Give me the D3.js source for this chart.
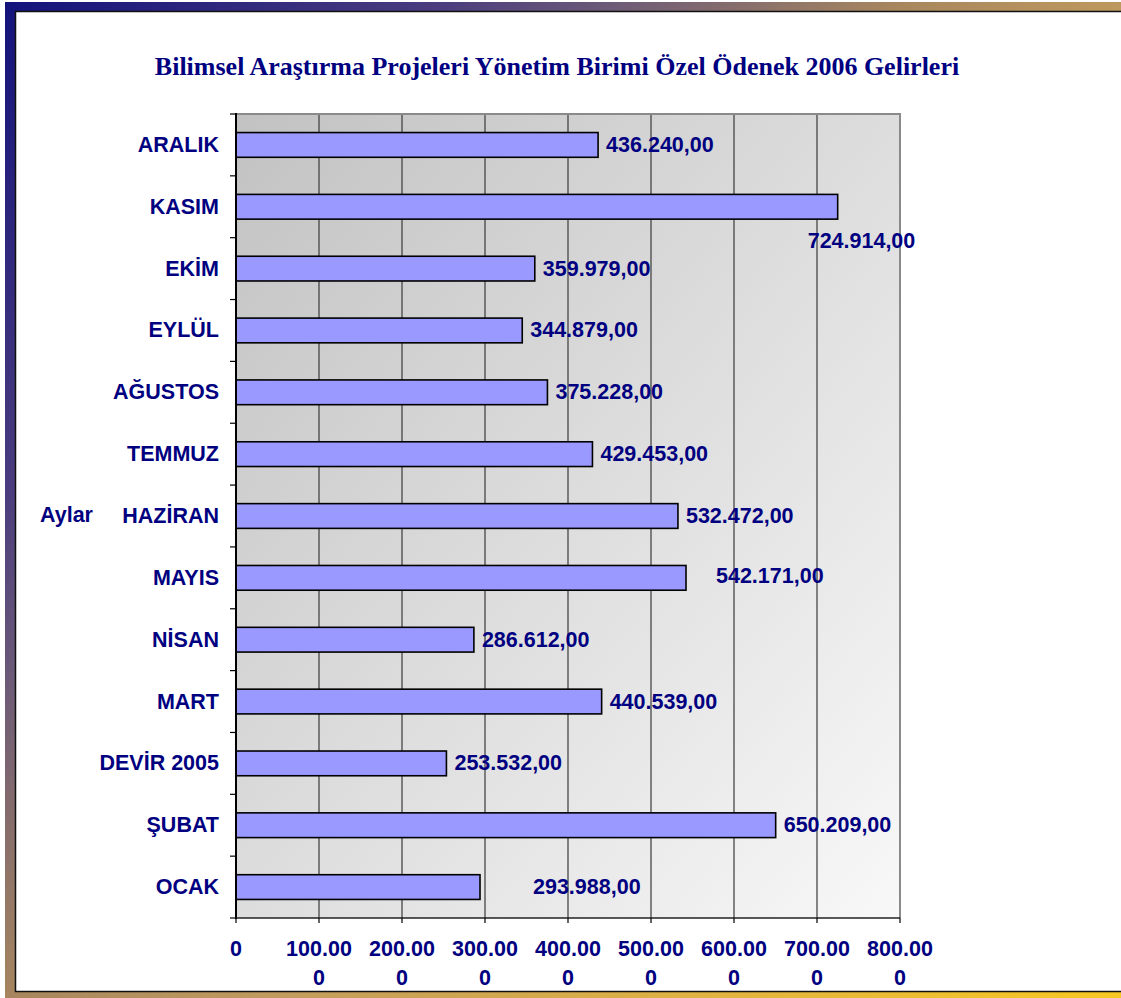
<!DOCTYPE html>
<html>
<head>
<meta charset="utf-8">
<script src="https://cdn.jsdelivr.net/npm/d3@7"></script>
<style>
  html, body { margin: 0; padding: 0; background: #ffffff; }
  svg { display: block; }
</style>
</head>
<body>
<svg id="chart" width="1121" height="998"></svg>
<script>
// ---- Data (bottom to top as in the original series) ----
const categories = ["OCAK", "ŞUBAT", "DEVİR 2005", "MART", "NİSAN", "MAYIS", "HAZİRAN",
                    "TEMMUZ", "AĞUSTOS", "EYLÜL", "EKİM", "KASIM", "ARALIK"];
const values = [293988, 650209, 253532, 440539, 286612, 542171, 532472,
                429453, 375228, 344879, 359979, 724914, 436240];
const xTickValues = [0, 100000, 200000, 300000, 400000, 500000, 600000, 700000, 800000];
const xTickLabels = [["0"], ["100.00", "0"], ["200.00", "0"], ["300.00", "0"], ["400.00", "0"],
                     ["500.00", "0"], ["600.00", "0"], ["700.00", "0"], ["800.00", "0"]];
const titleText = "Bilimsel Araştırma Projeleri Yönetim Birimi Özel Ödenek 2006 Gelirleri";
const axisTitle = "Aylar";

// label nudges (layout only, as placed in the original slide) [dx, dy]
const labelNudge = {"KASIM": [-38, 34], "MAYIS": [22, -2], "OCAK": [45, 0]};

const W = 1121, H = 998;
const navy = "#000080";
const sans = "'Liberation Sans', Arial, sans-serif";
const fs = 21.5;
const svg = d3.select("#chart");
const defs = svg.append("defs");

// frame gradient
const fg = defs.append("linearGradient").attr("id", "frameGrad")
  .attr("gradientUnits", "userSpaceOnUse").attr("x1", 0).attr("y1", 0).attr("x2", W).attr("y2", H);
[[0, "#12127c"], [0.22, "#4a3c7e"], [0.3, "#6a5878"], [0.45, "#a8875e"], [0.58, "#c29c5e"], [0.8, "#e2b440"], [1, "#f8c822"]]
  .forEach(([o, c]) => fg.append("stop").attr("offset", o).attr("stop-color", c));

// plot gradient
const pg = defs.append("linearGradient").attr("id", "plotGrad")
  .attr("x1", 0).attr("y1", 0).attr("x2", 1).attr("y2", 1);
[[0, "#c2c2c2"], [1, "#f8f8f8"]]
  .forEach(([o, c]) => pg.append("stop").attr("offset", o).attr("stop-color", c));

// frame
svg.append("rect").attr("x", 5).attr("y", 2).attr("width", W - 5).attr("height", H - 2)
  .attr("fill", "url(#frameGrad)");
svg.append("rect").attr("x", 15.5).attr("y", 11.5).attr("width", W - 15.5 + 5).attr("height", 980)
  .attr("fill", "#ffffff").attr("stroke", "#111").attr("stroke-width", 1.5);

// title
svg.append("text").attr("x", 557).attr("y", 75).attr("text-anchor", "middle")
  .attr("font-family", "'Liberation Serif', 'Times New Roman', serif")
  .attr("font-weight", "bold").attr("font-size", 26).attr("fill", navy)
  .text(titleText);

// scales
const plot = {left: 236, right: 900, top: 114, bottom: 918};
const x = d3.scaleLinear().domain([0, 800000]).range([plot.left, plot.right]);
const order = categories.slice().reverse();
const y = d3.scaleBand().domain(order).range([plot.top, plot.bottom])
  .paddingInner(0.6).paddingOuter(0.3);

// plot background
svg.append("rect").attr("x", plot.left).attr("y", plot.top)
  .attr("width", plot.right - plot.left).attr("height", plot.bottom - plot.top)
  .attr("fill", "url(#plotGrad)");

// gridlines
svg.append("g").selectAll("line").data(xTickValues.slice(1, -1)).join("line")
  .attr("x1", d => x(d)).attr("x2", d => x(d))
  .attr("y1", plot.top).attr("y2", plot.bottom)
  .attr("stroke", "#3a3a3a").attr("stroke-width", 1.2);

// plot border (top & right)
svg.append("path")
  .attr("d", `M${plot.left},${plot.top}H${plot.right}V${plot.bottom}`)
  .attr("fill", "none").attr("stroke", "#8a8a8a").attr("stroke-width", 2);

// bars
const data = categories.map((c, i) => ({cat: c, val: values[i]}));
svg.append("g").selectAll("rect").data(data).join("rect")
  .attr("x", x(0)).attr("y", d => y(d.cat))
  .attr("width", d => x(d.val) - x(0)).attr("height", y.bandwidth())
  .attr("fill", "#9999ff").attr("stroke", "#000").attr("stroke-width", 1.6);

// axes
const step = y.step();
const yTicks = d3.range(categories.length + 1).map(i => plot.top + i * step);
svg.append("g").selectAll("line").data(yTicks).join("line")
  .attr("x1", plot.left - 6).attr("x2", plot.left).attr("y1", d => d).attr("y2", d => d)
  .attr("stroke", "#000").attr("stroke-width", 1.2);
svg.append("line").attr("x1", plot.left).attr("x2", plot.left)
  .attr("y1", plot.top - 1).attr("y2", plot.bottom + 1).attr("stroke", "#000").attr("stroke-width", 2);
svg.append("line").attr("x1", plot.left).attr("x2", plot.right)
  .attr("y1", plot.bottom).attr("y2", plot.bottom).attr("stroke", "#222").attr("stroke-width", 1.6);
svg.append("g").selectAll("line").data(xTickValues).join("line")
  .attr("x1", d => x(d)).attr("x2", d => x(d)).attr("y1", plot.bottom).attr("y2", plot.bottom + 5)
  .attr("stroke", "#000").attr("stroke-width", 1.2);

// category labels
svg.append("g").selectAll("text").data(categories).join("text")
  .attr("x", 219).attr("y", d => y(d) + y.bandwidth() / 2 + 7)
  .attr("text-anchor", "end").attr("font-family", sans).attr("font-weight", "bold")
  .attr("font-size", fs).attr("fill", navy).text(d => d);

// axis title
svg.append("text").attr("x", 40).attr("y", 522).attr("font-family", sans).attr("font-weight", "bold")
  .attr("font-size", fs).attr("fill", navy).text(axisTitle);

// x tick labels
const xl = svg.append("g").selectAll("text").data(xTickValues).join("text")
  .attr("text-anchor", "middle").attr("font-family", sans).attr("font-weight", "bold")
  .attr("font-size", fs).attr("fill", navy);
xl.each(function(d, i) {
  const t = d3.select(this);
  xTickLabels[i].forEach((line, j) => {
    t.append("tspan").attr("x", x(d)).attr("y", 956 + j * 29).text(line);
  });
});

// value labels
const loc = d3.formatLocale({decimal: ",", thousands: ".", grouping: [3], currency: ["", ""]});
const fmt = loc.format(",.2f");
svg.append("g").selectAll("text").data(data).join("text")
  .attr("x", d => x(d.val) + 8 + (labelNudge[d.cat] ? labelNudge[d.cat][0] : 0))
  .attr("y", d => y(d.cat) + y.bandwidth() / 2 + 7 + (labelNudge[d.cat] ? labelNudge[d.cat][1] : 0))
  .attr("font-family", sans).attr("font-weight", "bold")
  .attr("font-size", fs).attr("fill", navy).text(d => fmt(d.val));
</script>
</body>
</html>
